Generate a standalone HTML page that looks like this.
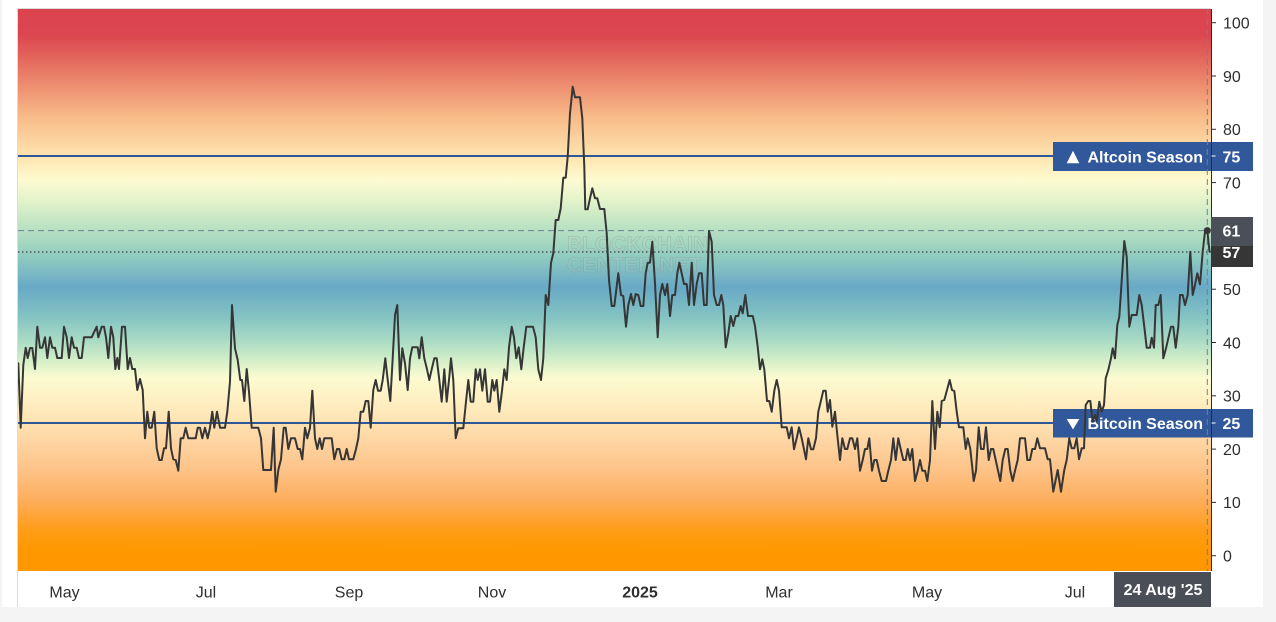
<!DOCTYPE html>
<html><head><meta charset="utf-8"><style>
html,body{margin:0;padding:0;background:#f4f4f4;}
svg{display:block;}
text{font-family:"Liberation Sans",Arial,sans-serif;}
</style></head><body>
<svg width="1276" height="622" viewBox="0 0 1276 622" xmlns="http://www.w3.org/2000/svg">
<defs>
<linearGradient id="bg" gradientUnits="userSpaceOnUse" x1="0" y1="9" x2="0" y2="571">
<stop offset="0" stop-color="#db434e"/>
<stop offset="0.046" stop-color="#dc4650"/>
<stop offset="0.091" stop-color="#e4695d"/>
<stop offset="0.144" stop-color="#ef9473"/>
<stop offset="0.192" stop-color="#f8bb88"/>
<stop offset="0.233" stop-color="#fcd39e"/>
<stop offset="0.269" stop-color="#fee8b4"/>
<stop offset="0.304" stop-color="#fefbd0"/>
<stop offset="0.340" stop-color="#e3f3ca"/>
<stop offset="0.384" stop-color="#bfe4c3"/>
<stop offset="0.438" stop-color="#92cdbf"/>
<stop offset="0.495" stop-color="#68a9c6"/>
<stop offset="0.545" stop-color="#82c2c3"/>
<stop offset="0.589" stop-color="#a8dac4"/>
<stop offset="0.625" stop-color="#d4efc8"/>
<stop offset="0.657" stop-color="#fdfbd1"/>
<stop offset="0.714" stop-color="#feeabb"/>
<stop offset="0.767" stop-color="#fed6a4"/>
<stop offset="0.820" stop-color="#fdc388"/>
<stop offset="0.874" stop-color="#fdae5c"/>
<stop offset="0.927" stop-color="#ff9d18"/>
<stop offset="0.963" stop-color="#ff9800"/>
<stop offset="1" stop-color="#ff9800"/>
</linearGradient>
<clipPath id="plot"><rect x="18" y="9" width="1193" height="562"/></clipPath>
</defs>

<rect x="2" y="0" width="1261" height="607" fill="#ffffff"/>
<rect x="18" y="9" width="1193" height="562" fill="url(#bg)"/>
<line x1="17.5" y1="8" x2="17.5" y2="607" stroke="#dcdcdc" stroke-width="1"/>
<line x1="17" y1="8.5" x2="1211" y2="8.5" stroke="#dcdcdc" stroke-width="1"/>

<text x="567" y="251" font-size="21" font-weight="bold" fill="rgba(255,255,255,0.06)" stroke="rgba(130,130,130,0.28)" stroke-width="0.8">BLOCKCHAIN</text>
<text x="567" y="272" font-size="21" font-weight="bold" fill="rgba(255,255,255,0.06)" stroke="rgba(130,130,130,0.28)" stroke-width="0.8">CENTER.NET</text>

<line x1="18" y1="156" x2="1053" y2="156" stroke="#2f5797" stroke-width="2"/>
<line x1="18" y1="423" x2="1053" y2="423" stroke="#2f5797" stroke-width="2"/>

<line x1="18" y1="230.6" x2="1211" y2="230.6" stroke="#6f8294" stroke-width="1" stroke-dasharray="6 4"/>
<line x1="18" y1="252" x2="1211" y2="252" stroke="#1e1e1e" stroke-width="1" stroke-dasharray="1.5 2.5"/>

<rect x="1053" y="142" width="200" height="29" fill="#30589a"/>
<polygon points="1066.7,163.3 1079.3,163.3 1073,150.7" fill="#ffffff"/>
<text x="1087.5" y="162.5" font-size="16" font-weight="bold" fill="#ffffff">Altcoin Season</text>
<rect x="1053" y="409" width="200" height="28.5" fill="#30589a"/>
<polygon points="1066.7,419 1079.3,419 1073,429.5" fill="#ffffff"/>
<text x="1087.5" y="429" font-size="16" font-weight="bold" fill="#ffffff">Bitcoin Season</text>

<line x1="1207.3" y1="9" x2="1207.3" y2="571" stroke="#6f8294" stroke-width="1" stroke-dasharray="6 4"/>

<g clip-path="url(#plot)">
<polyline fill="none" stroke="#363636" stroke-width="2" stroke-linejoin="round" stroke-linecap="round" points="
18.3,363.3 20.7,427.7 23.3,365 25.7,347.7 27.7,358 30,348 32.3,348 35,369 37.3,326.7 40,347.7 42.3,347.7 45,337.3 47.3,358 50,337.3 52.3,347.7 55,347.7 57.3,358 61.7,358 64,326.7 66.7,337.3 69,358 71.7,337.3 74,347.7 76.7,347.7 79,358 81.7,358 84,337.3 91.7,337.3 94.3,331.7 96.7,326.7 98.3,337.3 101.7,326.7 104,326.7 106,337.3 108.3,358 111,326.7 113.3,337.3 115.3,369 117.3,358 119,369 122,326.7 125,326.7 127.7,369 130,358 132.3,369 135,369 137.3,390 140,379 142.7,390 145,438.3 147.3,411.7 149.3,427.7 151.7,427.7 154.3,411.7 156.7,448.3 159.3,460 161.7,460 164,448.3 166,448.3 168.7,411.7 171,448.3 173.3,459.3 175.7,460 178.3,470.7 180.7,438.3 183.3,438.3 185.7,427.7 188.3,438.3 195.7,438.3
197.7,427.7 200,427.7 202.3,438.3 205,427.7 207.7,438.3 210,427.7 212.3,411.7 214.3,427.7 217,411.7 220,427.7 225,427.7 227.3,411.7 230,381.7 232,305 235,348.3 237.7,360 240.3,380 242,380 244.3,401 246.7,369 249,391.7 251.7,427.7 258.3,427.7 261,438.3 263.3,470 271,470 273.7,427.7 275.7,491.7 278.3,470 281,459.3 283.7,427.7 285.7,427.7 288.3,449 291,438.3 295,438.3 297.7,449 300,449 302.3,459.3 305,427.7 307.3,438.3 310,427.7 312.3,390.7 315,438.3 317.3,449 319.7,438.3 322,449 324.3,438.3 331.7,438.3 334.3,459.3 337,449 339.3,449 341.7,459.3 344.3,459.3 346.7,449 349,459.3 353.3,459.3 356,449 358.3,438.3 360.7,411.7 363.3,411.7 365.7,401 368.3,401 370.7,427.7 373.3,390 375.7,380 378,390.7 380.7,390.7 382.7,380 385.3,358.3 387.7,380 390.3,401 392.7,358.3 395,315 397.3,305 400,380 402.3,348.3
405,363.3 407.7,390 410,358.3 412.3,347.3 417.7,347.3 419.3,358.3 421.7,337.3 424.3,358.3 427,369.3 429.3,380 431.7,369.3 434.3,358.3 436.7,358.3 439.3,380 441.7,401.7 444.3,369.3 446.7,401.7 449,380 451,358.3 453.3,380 455.7,438.3 458.3,428.3 463.3,428.3 466,401.7 468.3,380 470.7,401.7 473.3,401.7 475.7,369.3 477.7,380 480,369.3 482.3,390.7 485,369.3 487.7,401.7 490,401.7 492.3,380 494.3,390.7 496.7,380 499.3,411.7 502,390.7 504.3,369.3 506.7,380 509,347.3 511.7,326.7 514,337.3 516.3,358.3 518.7,347.3 521.3,369.3 523.7,347.3 526.3,326.7 529,326.7 533,326.7 535.7,337.3 538.3,369.3 541,380 543.3,358.3 545.7,295 548.3,305 551,262.7 553.3,253.3 555.7,220 558.3,220 560.7,208.3 563.3,177.7 565.7,177.7 567.7,156.7 570,113.3 572.7,86.7 575,97.3 580,97.3 582.3,118.3 584.3,166.7 585.3,209.3 587.7,209.3 590,198.3 592.3,188.3 595,198.3 597.3,198.3 600,209 604.3,209 606.7,233.3 609,280 611.7,306 614.3,306
618.3,273.3 621,295 623.3,296 626,326.7 628.3,305 631,294 633.3,305 635.7,294 638.3,295 640.7,306 643.3,306 645.7,273.3 647.7,262.7 650,262.7 652.3,241.7 655,283.3 657.7,337.3 660,295 662.3,284 665,295 667.3,284 670,316 672.3,295 675,295 677.3,273.3 679.3,262.7 681.7,273.3 684,284 686.7,284 689,305 691.7,262.7 694,305 696.7,284 699,273.3 701.7,273.3 704,305 706.7,305 709,231 711.7,241.7 714,295 716.7,305 719,305 721.3,295 723.3,305 725.7,347.3 728.3,333.3 730.7,316 733.3,326 735.7,316 738.3,316 740.7,306 742.7,313.3 745.3,295 748,316 752.7,316 755,326 757.7,346.7 760,369.3 762.3,359.3 764.3,369.3 767,401 769.3,401 771.7,411.7 774.3,390.7 776.7,380 779,390.7 781.7,427.3 786.7,427.3 789,438.3 791.7,427.3 794,449.3 796.7,438.3 799,427.3 801.7,438.3 804,449.3 806,459.3 808.3,438.3 811,449.3 813.3,449.3 816,438.3 818.3,411.7 820.7,401.7 823.3,390.7 825.7,390.7
827.7,411.7 830,400 832.3,426.7 835,411.7 837.3,435 840,460 842.3,438.3 845,449 847.3,449 850,438.3 852.3,438.3 855,449 857.3,438.3 860,470.7 862.7,460 865,449 867.3,449 869.3,438.3 872,470.7 874.3,460 876.7,460 879,470.7 881.7,481 886,481 888.3,470.7 891,460 893.3,438.3 895.7,460 898.3,438.3 900.7,449 903.3,460 905.7,460 907.7,449 910,460 912.3,449 915,481 917.7,470.7 920,460 922.3,470.7 925,470.7 927.3,481 930,460 932.3,401 935,449 937.3,411.7 939.7,427.3 941.7,401 944.3,400 947,390 949.7,380 952,390 954.3,391 956.7,411.7 959,427.3 963.3,427.3 965.7,449 967.7,438.3 970.3,449 973.7,481 976,470.7 978.7,427.3 981,449 983.7,449 986,427.3 988.7,460 991,449 993.3,449 995.7,460 1000.3,481 1002.7,460 1005.3,449 1007.7,449 1010.3,470.7 1012.7,481 1015,470.7 1017.7,460 1020,438.3 1025,438.3 1027.3,460 1030,460 1032.3,449 1035,449 1037.3,438.3
1040,448.3 1045,448.3 1047.7,459.3 1050,459.3 1053.3,491.7 1057.7,470 1061,491.7 1064.3,470 1066.7,460 1069.3,438.3 1071.7,448.3 1074.3,448.3 1076.7,438.3 1079,459.3 1081.7,448.3 1084,448.3 1085.7,405 1088.3,401 1090.3,401 1092.7,421.7 1095,415 1096.7,421.7 1099.3,401.7 1101.7,411.7 1104,405 1105.7,378.3 1108.3,370 1111,358.3 1112.7,348.3 1115,358.3 1117.3,325 1119.3,316.7 1122.3,271.7 1124.3,241 1126.7,256.7 1129.3,326.7 1131.7,315 1136.7,315 1139.3,295 1141.7,305 1144.3,326.7 1146.7,347.7 1150,347.7 1151.7,337.7 1154,347.7 1155.7,305 1158.3,305 1160.7,295 1163.3,358.3 1166,348.3 1168.3,338.3 1171,326.7 1173.3,326.7 1175.7,347.7 1178.3,326.7 1180,295 1182.7,295 1185,305 1187.7,295 1190.3,251.7 1192.7,295 1195,285 1197.3,273.3 1200,284.3 1202.7,251.7 1205,231.7 1207.3,230.6 1209.5,251.7"/>
</g>
<circle cx="1207.3" cy="230.6" r="3.5" fill="#363636"/>

<line x1="1211.5" y1="9" x2="1211.5" y2="571" stroke="#2b2b2b" stroke-width="1"/>
<g stroke="#2b2b2b" stroke-width="1">
<line x1="1211" y1="22.7" x2="1216" y2="22.7"/>
<line x1="1211" y1="76" x2="1216" y2="76"/>
<line x1="1211" y1="129.3" x2="1216" y2="129.3"/>
<line x1="1211" y1="182.6" x2="1216" y2="182.6"/>
<line x1="1211" y1="289.2" x2="1216" y2="289.2"/>
<line x1="1211" y1="342.5" x2="1216" y2="342.5"/>
<line x1="1211" y1="395.8" x2="1216" y2="395.8"/>
<line x1="1211" y1="449.1" x2="1216" y2="449.1"/>
<line x1="1211" y1="502.4" x2="1216" y2="502.4"/>
<line x1="1211" y1="555.7" x2="1216" y2="555.7"/>
</g>
<g font-size="16" fill="#2f2f2f">
<text x="1223" y="28.5">100</text>
<text x="1223" y="81.8">90</text>
<text x="1223" y="135.1">80</text>
<text x="1223" y="188.4">70</text>
<text x="1223" y="295">50</text>
<text x="1223" y="348.3">40</text>
<text x="1223" y="401.6">30</text>
<text x="1223" y="454.9">20</text>
<text x="1223" y="508.2">10</text>
<text x="1223" y="561.5">0</text>
</g>
<line x1="1211.5" y1="156" x2="1215.5" y2="156" stroke="#ffffff" stroke-width="1"/>
<text x="1222.5" y="162.5" font-size="16" font-weight="bold" fill="#ffffff">75</text>
<line x1="1211.5" y1="423" x2="1215.5" y2="423" stroke="#ffffff" stroke-width="1"/>
<text x="1222.5" y="429" font-size="16" font-weight="bold" fill="#ffffff">25</text>

<rect x="1211" y="237" width="42" height="30" fill="#363636"/>
<text x="1222.5" y="258" font-size="16" font-weight="bold" fill="#ffffff">57</text>
<rect x="1211" y="217" width="42" height="29" fill="#4b4f58"/>
<text x="1222.5" y="236.5" font-size="16" font-weight="bold" fill="#ffffff">61</text>

<g font-size="16" fill="#2f2f2f" text-anchor="middle">
<text x="64.5" y="597.5">May</text>
<text x="206" y="597.5">Jul</text>
<text x="349" y="597.5">Sep</text>
<text x="492" y="597.5">Nov</text>
<text x="640" y="597.5" font-weight="bold">2025</text>
<text x="779" y="597.5">Mar</text>
<text x="927" y="597.5">May</text>
<text x="1075" y="597.5">Jul</text>
</g>
<rect x="1114" y="572" width="97" height="35" fill="#4a4e57"/>
<text x="1163" y="595" font-size="16" font-weight="bold" fill="#ffffff" text-anchor="middle">24 Aug '25</text>
</svg>
</body></html>
